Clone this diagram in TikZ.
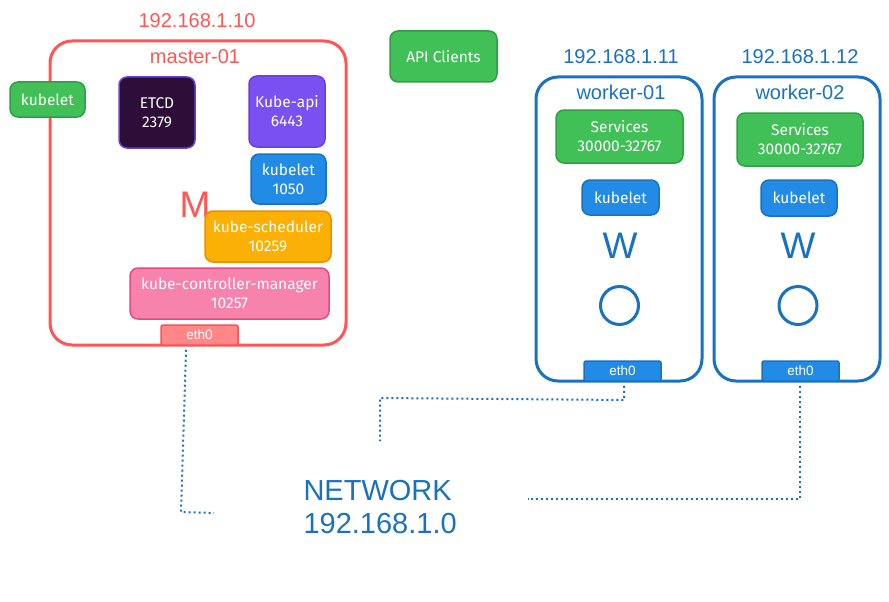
\documentclass[tikz,border=0pt]{standalone}
\usepackage{fontspec}
\setmainfont{Liberation Sans}
\newfontfamily\hand{Fira Sans}
\definecolor{cRed}{HTML}{FF5555}
\definecolor{cBlue}{HTML}{1971C2}
\definecolor{gFill}{HTML}{40C057}
\definecolor{gLine}{HTML}{2F9E44}
\definecolor{eFill}{HTML}{2D0E38}
\definecolor{pLine}{HTML}{6741D9}
\definecolor{pFill}{HTML}{7950F2}
\definecolor{bFill}{HTML}{228BE6}
\definecolor{oFill}{HTML}{FAB005}
\definecolor{oLine}{HTML}{F08C00}
\definecolor{kFill}{HTML}{F783AC}
\definecolor{kLine}{HTML}{E64980}
\definecolor{rFill}{HTML}{FF8787}
\definecolor{rLine}{HTML}{FA5252}
\begin{document}
\begin{tikzpicture}[x=1pt,y=-1pt,
  comp/.style={rectangle,rounded corners=8pt,line width=1.5pt,inner sep=0pt,
    align=center,text=white,font=\hand\fontsize{15.5}{19}\selectfont},
  green/.style={comp,fill=gFill,draw=gLine},
  blue/.style={comp,fill=bFill,draw=cBlue},
  ethbox/.style={rectangle,rounded corners=2pt,line width=1.5pt,inner sep=0pt,
    minimum width=77pt,minimum height=20pt,text=white,font=\fontsize{13.5}{15}\selectfont},
  label/.style={font=\fontsize{20}{22}\selectfont},
  big/.style={font=\fontsize{37}{40}\selectfont},
  host/.style={line width=3pt,rounded corners=22pt},
  net/.style={cBlue,line width=2pt,dash pattern=on 2pt off 3pt}]
\useasboundingbox (0,0) rectangle (889,602);

% master
\node[label,text=cRed] (ipm) at (197,21) {192.168.1.10};
\draw[host,draw=cRed] (50,41) rectangle (346,345);
\node[label,text=cRed] (mname) at (195,57) {master-01};
\draw[cRed,line width=3pt] (175.5,268) arc[start angle=180,end angle=0,radius=20.5];
\node[green,minimum width=75pt,minimum height=35pt] (kubeletL) at (47.5,99.5) {kubelet};
\node[comp,fill=eFill,draw=pLine,minimum width=76pt,minimum height=71pt] (etcd) at (157,112.5) {ETCD\\2379};
\node[comp,fill=pFill,draw=pLine,minimum width=76pt,minimum height=71pt] (api) at (287,111.5) {Kube-api\\6443};
\node[blue,minimum width=75pt,minimum height=50pt] (k1050) at (288.5,179) {kubelet\\1050};
\node[big,text=cRed] (M) at (195,205) {M};
\node[comp,fill=oFill,draw=oLine,minimum width=126pt,minimum height=51pt] (sched) at (268,236.5) {kube-scheduler\\10259};
\node[comp,fill=kFill,draw=kLine,minimum width=199pt,minimum height=51pt] (kcm) at (229.5,293.5) {kube-controller-manager\\10257};
\node[ethbox,fill=rFill,draw=rLine] (ethm) at (199.5,335) {eth0};

% api clients
\node[green,minimum width=107pt,minimum height=51pt] (apic) at (443.5,56.5) {API Clients};

% workers
\node[label,text=cBlue] (ip1) at (621,57) {192.168.1.11};
\node[label,text=cBlue] (ip2) at (800,57) {192.168.1.12};
\draw[host,draw=cBlue] (536,77) rectangle (702,381);
\draw[host,draw=cBlue] (714,77) rectangle (880,381);
\node[label,text=cBlue] (w1name) at (621,92) {worker-01};
\node[label,text=cBlue] (w2name) at (800,92) {worker-02};
\node[green,minimum width=127pt,minimum height=53pt] (svc1) at (619.5,136.5) {Services\\30000-32767};
\node[green,minimum width=126pt,minimum height=53pt] (svc2) at (800,139.5) {Services\\30000-32767};
\node[blue,minimum width=77pt,minimum height=35pt] (kub1) at (620.5,197.5) {kubelet};
\node[blue,minimum width=76pt,minimum height=36pt] (kub2) at (799,198) {kubelet};
\node[big,text=cBlue] (W1) at (620,246) {W};
\node[big,text=cBlue] (W2) at (798,246) {W};
\node[circle,draw=cBlue,line width=3pt,minimum size=38pt,inner sep=0pt] (c1) at (619.5,305.5) {};
\node[circle,draw=cBlue,line width=3pt,minimum size=38pt,inner sep=0pt] (c2) at (798,305.5) {};
\node[ethbox,fill=bFill,draw=cBlue] (eth1) at (622.5,371) {eth0};
\node[ethbox,fill=bFill,draw=cBlue] (eth2) at (800.5,371) {eth0};

% network
\node[anchor=west,align=left,text=cBlue,font=\fontsize{29}{33}\selectfont] (net) at (300,507) {NETWORK\\192.168.1.0};
\coordinate (m1) at (181,512);
\coordinate (m2) at (214,513);
\coordinate (a1) at (624,400);
\coordinate (a2) at (380,398);
\coordinate (a3) at (380,441);
\coordinate (b1) at (800,499);
\coordinate (b2) at (528,499);
\draw[net] ([xshift=-13.5pt,yshift=-4pt]ethm.south) -- (m1) -- (m2);
\draw[net] ([xshift=1.5pt,yshift=-4pt]eth1.south) -- (a1) -- (a2) -- (a3);
\draw[net] ([xshift=-0.5pt,yshift=-4pt]eth2.south) -- (b1) -- (b2);
\end{tikzpicture}
\end{document}
